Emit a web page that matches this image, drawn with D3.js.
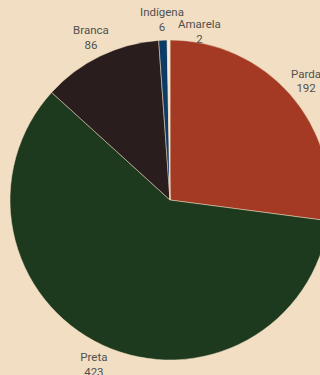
<!DOCTYPE html>
<html>
<head>
<meta charset="utf-8">
<script src="https://cdn.jsdelivr.net/npm/d3@7"></script>
<style>
  html, body { margin: 0; padding: 0; background: #f2dfc3; }
  svg { display: block; }
  .label text { font-family: Roboto, sans-serif; font-size: 11.5px; fill: #505050; text-anchor: middle; }
</style>
</head>
<body>
<svg id="chart"></svg>
<script>
// data
const categories = ['Parda', 'Preta', 'Branca', 'Indígena', 'Amarela'];
const values = [192, 423, 86, 6, 2];
const colors = ['#a43a24', '#1d3a1e', '#2a1d1d', '#0c3b66', '#f5ecdc'];

const width = 320, height = 375;
const cx = 170, cy = 200, radius = 160, labelRadius = 181;

const svg = d3.select('#chart')
  .attr('width', width)
  .attr('height', height);

const g = svg.append('g')
  .attr('transform', `translate(${cx},${cy})`);

const rows = categories.map((c, i) => ({ name: c, value: values[i], color: colors[i] }));

const pie = d3.pie().sort(null).value(d => d.value);
const arcs = pie(rows);

const arc = d3.arc().innerRadius(0).outerRadius(radius);

g.selectAll('.slice')
  .data(arcs)
  .join('path')
  .attr('class', 'slice')
  .attr('d', arc)
  .attr('fill', d => d.data.color)
  .attr('stroke', '#f2dfc3')
  .attr('stroke-width', 0.5);

// labels: name on first line, value below, centred on a point outside the arc
const labels = g.selectAll('.label')
  .data(arcs)
  .join('g')
  .attr('class', 'label');

labels.append('text').attr('class', 'name').attr('y', -3).text(d => d.data.name);
labels.append('text').attr('class', 'val').attr('y', 11.5).text(d => d.data.value);

function boxes(node, p) {
  // one box per text line (trimmed to roughly the glyphs)
  return Array.from(node.querySelectorAll('text')).map(t => {
    const b = t.getBBox();
    return { x0: p[0] + b.x, x1: p[0] + b.x + b.width, y0: p[1] + b.y + 2, y1: p[1] + b.y + b.height - 2 };
  });
}

function hit(A, B) {
  return A.some(a => B.some(b => a.x0 < b.x1 + 1 && b.x0 < a.x1 + 1 && a.y0 < b.y1 + 2 && b.y0 < a.y1 + 2));
}

// nudge colliding labels right and slightly down until they are clear
let placed = [];
labels.each(function(d) {
  const a = (d.startAngle + d.endAngle) / 2;
  let p = [labelRadius * Math.sin(a), -labelRadius * Math.cos(a)];
  let bx = boxes(this, p);
  let tries = 0;
  while (placed.some(q => hit(bx, q)) && tries < 200) {
    p = [p[0] + 1, p[1] + 0.4];
    bx = boxes(this, p);
    tries++;
  }
  placed.push(bx);
  d3.select(this).attr('transform', `translate(${p[0]},${p[1]})`);
});
</script>
</body>
</html>
